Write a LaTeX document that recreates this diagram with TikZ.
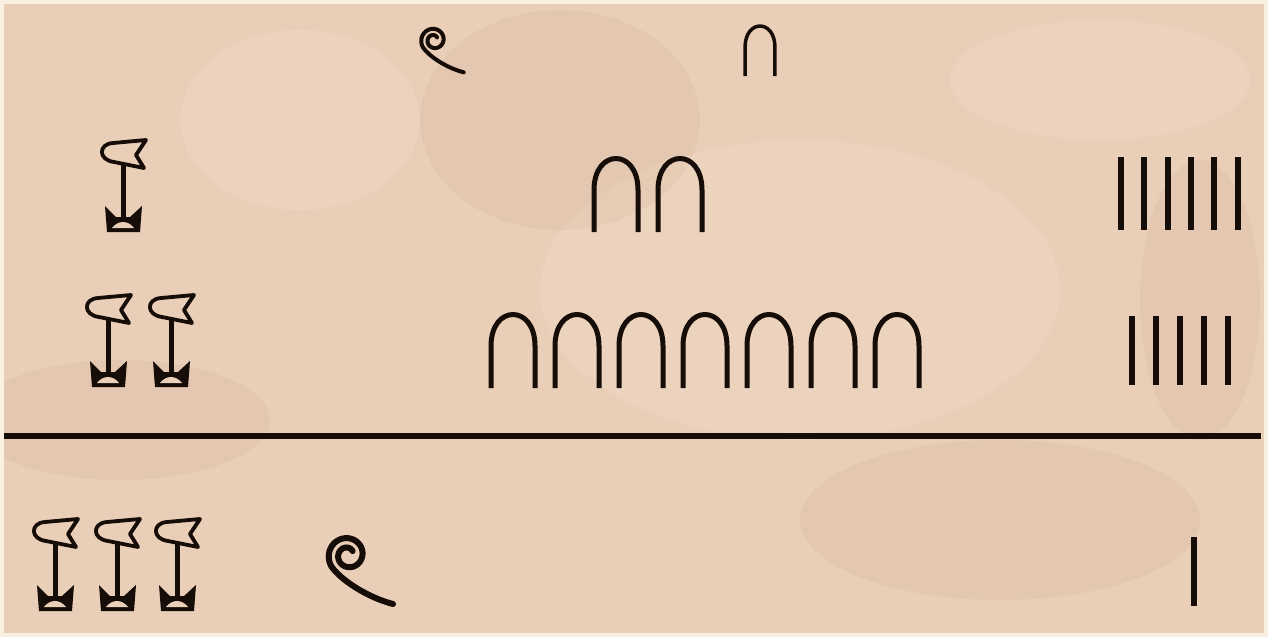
\documentclass[tikz,border=0pt]{standalone}
\usepackage{xcolor}
\definecolor{rim}{RGB}{250,240,226}
\definecolor{stone}{RGB}{233,206,184}
\definecolor{stonelight}{RGB}{245,225,208}
\definecolor{stonedark}{RGB}{215,184,158}
\definecolor{ink}{RGB}{22,12,8}
\usepackage{tikz}
\usetikzlibrary{calc}

\begin{document}
\begin{tikzpicture}[x=1pt, y=-1pt,
      glyph/.style  = {draw=ink, line cap=round, line join=round},
      bar/.style    = {draw=ink, line width=6pt},
      rule/.style   = {draw=ink, line width=6pt},
      blotch/.style = {fill opacity=0.28, draw=none},
      pics/lotus/.style = {code={
          \draw[glyph, line width=3.8pt] (-10,3) -- (23,0) -- (13,15) -- (21,28) -- (-9,22)
             .. controls (-25,20) and (-25,4) .. (-10,3) -- cycle;
          \draw[glyph, line width=5pt, line cap=butt] (0,23) -- (0,80);
          \fill[ink] (-18,66) -- (-7,77) -- (7,77) -- (19,66) -- (17,92) -- (-16,92) -- cycle;
          \fill[stone] (-11,88) .. controls (-5,80) and (5,80) .. (11,88) -- cycle;
      }},
      pics/arch/.style = {code={
          \draw[glyph, line cap=butt] (-22,0) -- (-22,-42)
             .. controls (-22,-84) and (22,-84) .. (22,-42) -- (22,0);
      }},
      pics/coil/.style = {code={
          \draw[glyph] plot[domain=40:575, samples=90, smooth]
             ({(5+\x/38)*cos(\x)}, {-(5+\x/38)*sin(\x)})
             .. controls (-8,24) and (18,42) .. (45,49);
      }},
    ]
    \useasboundingbox (0,0) rectangle (1268,637);

    % --- Stone slab ---
    \fill[rim] (0,0) rectangle (1268,637);
    \fill[stone] (4,4) rectangle (1264,633);
    \begin{scope}
      \clip (4,4) rectangle (1264,633);
      \fill[stonelight, blotch] (800,290) ellipse (260 and 150);
      \fill[stonelight, blotch] (300,120) ellipse (120 and 90);
      \fill[stonelight, blotch] (1100,80) ellipse (150 and 60);
      \fill[stonedark, blotch] (560,120) ellipse (140 and 110);
      \fill[stonedark, blotch] (1000,520) ellipse (200 and 80);
      \fill[stonedark, blotch] (120,420) ellipse (150 and 60);
      \fill[stonedark, blotch] (1200,300) ellipse (60 and 140);
    \end{scope}

    % --- Carries (top) ---
    \pic[scale=0.66, line width=4pt] at (434,40) {coil};
    \pic[scale=0.68, line width=3.5pt] at (760,76) {arch};

    % --- First addend: 1026 ---
    \pic at (123,140) {lotus};
    \foreach \x in {616, 680}{
      \pic[line width=5pt] at (\x,232) {arch};
    }
    \foreach \i in {0,...,5}{
      \draw[bar] (1121+23.3*\i,157) -- (1121+23.3*\i,230);
    }

    % --- Second addend: 2075 ---
    \foreach \x in {108, 171}{
      \pic at (\x,295) {lotus};
    }
    \foreach \i in {0,...,6}{
      \pic[line width=5pt] at (513+64*\i,388) {arch};
    }
    \foreach \i in {0,...,4}{
      \draw[bar] (1132+24*\i,316) -- (1132+24*\i,385);
    }

    % --- Sum line ---
    \draw[rule] (4,436) -- (1261,436);

    % --- Result: 3101 ---
    \foreach \x in {55, 117, 177}{
      \pic at (\x,519) {lotus};
    }
    \pic[line width=6pt] at (348,555) {coil};
    \draw[bar] (1194,537) -- (1194,606);

  \end{tikzpicture}
\end{document}
